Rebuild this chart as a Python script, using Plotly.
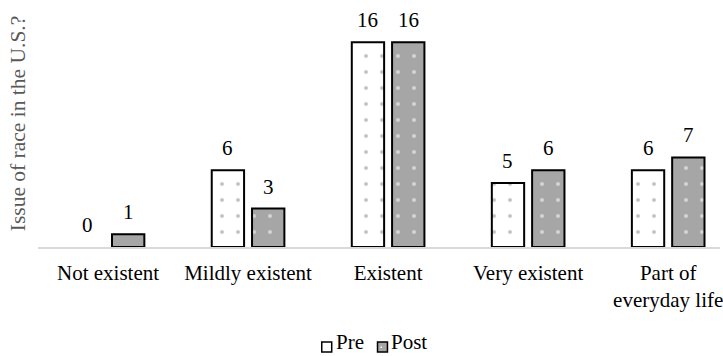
import plotly.graph_objects as go

categories = ["Not existent", "Mildly existent", "Existent", "Very existent", "Part of<br>everyday life"]
pre_values = [0, 6, 16, 5, 6]
post_values = [1, 3, 16, 6, 7]
series_names = ["Pre", "Post"]
y_title = "Issue of race in the U.S.?"

FONT = "'Liberation Serif', 'Times New Roman', Times, serif"
FS = 21
PRE_FILL = "white"
POST_FILL = "#a6a6a6"

W, H = 723, 356
L, B = 38, 109
PW, PH = W - L, H - B


def px(x):
    return (x - L) / PW


def py(y):
    return (PH - y) / PH


fig = go.Figure()
fig.add_trace(go.Bar(
    x=categories, y=pre_values, name=series_names[0], showlegend=False,
    marker=dict(color=PRE_FILL,
                line=dict(color="black", width=[0 if v == 0 else 2 for v in pre_values]),
                pattern=dict(shape=".", fgcolor="#8c8c8c", bgcolor=PRE_FILL, size=16, solidity=0.05)),
))
fig.add_trace(go.Bar(
    x=categories, y=post_values, name=series_names[1], showlegend=False,
    marker=dict(color=POST_FILL,
                line=dict(color="black", width=[0 if v == 0 else 2 for v in post_values]),
                pattern=dict(shape=".", fgcolor="white", bgcolor=POST_FILL, size=16, solidity=0.05)),
))

offset = 0.144
for i, (a, b) in enumerate(zip(pre_values, post_values)):
    for val, dx in ((a, -offset), (b, offset)):
        fig.add_annotation(x=i + dx, y=val, xref="x", yref="y", text=str(val),
                           showarrow=False, yanchor="middle", yshift=22,
                           font=dict(family=FONT, size=FS, color="black"))

# custom legend (small squares hugging the text)
legend_items = [(series_names[0], PRE_FILL, 323), (series_names[1], POST_FILL, 379)]
for name, fill, x0 in legend_items:
    fig.add_shape(type="rect", xref="paper", yref="paper",
                  x0=px(x0), x1=px(x0 + 10), y0=py(352), y1=py(342),
                  fillcolor=fill, line=dict(color="black", width=1.5))
    if fill != "white":
        fig.add_shape(type="rect", xref="paper", yref="paper",
                      x0=px(x0 + 3), x1=px(x0 + 4.5), y0=py(348), y1=py(346.5),
                      fillcolor="white", line=dict(width=0))
    fig.add_annotation(xref="paper", yref="paper", x=px(x0 + 12), y=py(342),
                       xanchor="left", yanchor="middle", showarrow=False, text=name,
                       font=dict(family=FONT, size=FS, color="black"))

fig.update_layout(
    width=W, height=H,
    margin=dict(l=L, r=0, t=0, b=B),
    paper_bgcolor="white", plot_bgcolor="white",
    barmode="group", bargap=0.4245, bargroupgap=0.1975,
    font=dict(family=FONT, size=FS, color="black"),
    showlegend=False,
)
fig.update_xaxes(range=[-0.5, 4.37], showline=True, linecolor="#d9d9d9", linewidth=1.5,
                 ticks="", showgrid=False, ticklabelstandoff=6,
                 tickfont=dict(family=FONT, size=FS, color="black"))
fig.update_yaxes(range=[0, 19.3], showticklabels=False, showgrid=False, zeroline=False,
                 title=dict(text=y_title, font=dict(family=FONT, size=21.5, color="#595959"), standoff=5))

fig.write_html("out.html")
